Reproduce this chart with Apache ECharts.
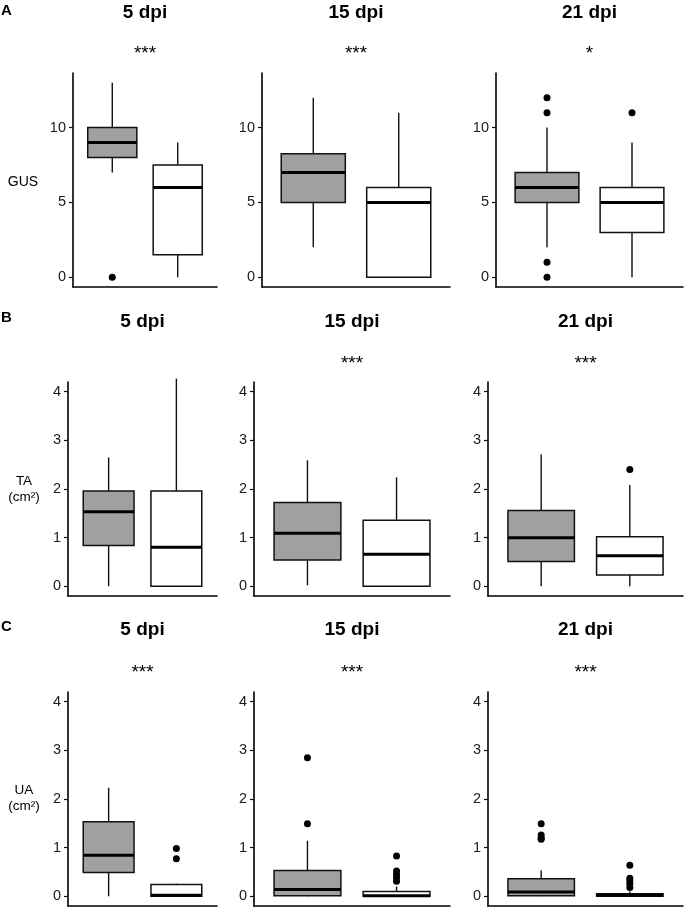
<!DOCTYPE html>
<html><head><meta charset="utf-8">
<script src="https://cdn.jsdelivr.net/npm/echarts@6/dist/echarts.min.js"></script>
<style>html,body{margin:0;padding:0;background:#fff}#c{width:685px;height:907px}</style>
</head><body><div id="c"></div>
<script>
// ---- data: box stats are [min, q1, median, q3, max] ----
const days = ['5 dpi', '15 dpi', '21 dpi'];
const rowLetters = ['A', 'B', 'C'];
const rowLabels = [['GUS'], ['TA', '(cm²)'], ['UA', '(cm²)']];
const signif = [['***', '***', '*'], ['', '***', '***'], ['***', '***', '***']];
const groupColors = ['#a0a0a0', '#ffffff'];

const gusTicks = [0, 5, 10];
const areaTicks = [0, 1, 2, 3, 4];

const gus5Gray = [7, 8, 9, 10, 13];
const gus5White = [0, 1.5, 6, 7.5, 9];
const gus15Gray = [2, 5, 7, 8.25, 12];
const gus15White = [0, 0, 5, 6, 11];
const gus21Gray = [2, 5, 6, 7, 10];
const gus21White = [0, 3, 5, 6, 9];
const gus5GrayOut = [0];
const gus5WhiteOut = [];
const gus15GrayOut = [];
const gus15WhiteOut = [];
const gus21GrayOut = [12, 11, 1, 0];
const gus21WhiteOut = [11];

const ta5Gray = [0, 0.84, 1.53, 1.96, 2.65];
const ta5White = [0, 0, 0.8, 1.96, 4.27];
const ta15Gray = [0.02, 0.54, 1.09, 1.72, 2.59];
const ta15White = [0, 0, 0.66, 1.36, 2.24];
const ta21Gray = [0, 0.51, 1.0, 1.56, 2.71];
const ta21White = [0, 0.23, 0.63, 1.02, 2.08];
const ta5GrayOut = [];
const ta5WhiteOut = [];
const ta15GrayOut = [];
const ta15WhiteOut = [];
const ta21GrayOut = [];
const ta21WhiteOut = [2.40];

const ua5Gray = [0, 0.49, 0.845, 1.53, 2.23];
const ua5White = [0, 0, 0.02, 0.24, 0.26];
const ua15Gray = [0, 0.01, 0.14, 0.53, 1.14];
const ua15White = [0, 0, 0.01, 0.1, 0.2];
const ua21Gray = [0, 0.01, 0.09, 0.36, 0.53];
const ua21White = [0, 0, 0.02, 0.05, 0.1];
const ua5GrayOut = [];
const ua5WhiteOut = [0.98, 0.77];
const ua15GrayOut = [2.85, 1.49];
const ua15WhiteOut = [0.83, 0.52, 0.45, 0.38, 0.31];
const ua21GrayOut = [1.49, 1.26, 1.2, 1.17];
const ua21WhiteOut = [0.64, 0.37, 0.32, 0.26, 0.18];

const panels = [
  [[gus5Gray, gus5White, gus5GrayOut, gus5WhiteOut], [gus15Gray, gus15White, gus15GrayOut, gus15WhiteOut], [gus21Gray, gus21White, gus21GrayOut, gus21WhiteOut]],
  [[ta5Gray, ta5White, ta5GrayOut, ta5WhiteOut], [ta15Gray, ta15White, ta15GrayOut, ta15WhiteOut], [ta21Gray, ta21White, ta21GrayOut, ta21WhiteOut]],
  [[ua5Gray, ua5White, ua5GrayOut, ua5WhiteOut], [ua15Gray, ua15White, ua15GrayOut, ua15WhiteOut], [ua21Gray, ua21White, ua21GrayOut, ua21WhiteOut]]
];
const rowTicks = [gusTicks, areaTicks, areaTicks];
const rowRange = [[-0.65, 13.65], [-0.2, 4.2], [-0.2, 4.2]];

// ---- layout ----
const FONT = '"Liberation Sans", Arial, sans-serif';
const rowTop = [73, 382, 692];
const gridH = 214;
const colLayout = [
  [[73, 144], [262, 188], [496, 187]],
  [[68, 149], [254, 196], [488, 195]],
  [[68, 149], [254, 196], [488, 195]]
];
const titleY = [13, 322, 630];
const starY = [54, 364, 673];
const letterY = [11, 318, 627];
const ylabY = [182, 490, 799];

const grids = [], xAxes = [], yAxes = [], series = [], graphics = [];
const INK = '#111';

function boxRender(params, api) {
  const x = api.value(0);
  const mn = api.coord([x, api.value(1)]);
  const q1 = api.coord([x, api.value(2)]);
  const md = api.coord([x, api.value(3)]);
  const q3 = api.coord([x, api.value(4)]);
  const mx = api.coord([x, api.value(5)]);
  const half = api.size([0.75, 0])[0] / 2;
  return {
    type: 'group',
    children: [
      { type: 'line', shape: { x1: mx[0], y1: mx[1], x2: mn[0], y2: mn[1] }, style: { stroke: INK, lineWidth: 1.4 } },
      { type: 'rect', shape: { x: q3[0] - half, y: q3[1], width: 2 * half, height: q1[1] - q3[1] },
        style: { fill: api.visual('color'), stroke: INK, lineWidth: 1.5 } },
      { type: 'line', shape: { x1: md[0] - half, y1: md[1], x2: md[0] + half, y2: md[1] }, style: { stroke: '#000', lineWidth: 3 } }
    ]
  };
}

for (let r = 0; r < 3; r++) {
  for (let c = 0; c < 3; c++) {
    const idx = r * 3 + c;
    const [left, width] = colLayout[r][c];
    grids.push({ left: left, top: rowTop[r], width: width, height: gridH });
    xAxes.push({
      gridIndex: idx, type: 'value', min: 0.4, max: 2.6,
      axisLine: { show: true, onZero: false, lineStyle: { color: '#000', width: 1.6 } },
      axisTick: { show: false }, axisLabel: { show: false }, splitLine: { show: false }
    });
    yAxes.push({
      gridIndex: idx, type: 'value', min: rowRange[r][0], max: rowRange[r][1],
      axisLine: { show: true, onZero: false, lineStyle: { color: '#000', width: 1.6 } },
      axisTick: { show: true, length: 4, customValues: rowTicks[r], lineStyle: { color: '#111', width: 1.2 } },
      axisLabel: { show: true, customValues: rowTicks[r], margin: 7, color: '#1a1a1a', fontSize: 14.5, fontFamily: FONT },
      splitLine: { show: false }
    });
    const p = panels[r][c];
    series.push({
      type: 'custom', xAxisIndex: idx, yAxisIndex: idx, renderItem: boxRender, clip: false,
      data: [0, 1].map(g => ({ value: [g + 1].concat(p[g]), itemStyle: { color: groupColors[g] } }))
    });
    const outs = [];
    [0, 1].forEach(g => p[2 + g].forEach(v => outs.push([g + 1, v])));
    series.push({
      type: 'scatter', xAxisIndex: idx, yAxisIndex: idx, data: outs,
      symbol: 'circle', symbolSize: 7, itemStyle: { color: '#000', opacity: 1 }, z: 5
    });
    const cx = left + width / 2;
    graphics.push({ type: 'text', x: cx, y: titleY[r], style: { text: days[c], font: 'bold 19px ' + FONT, fill: '#000', textAlign: 'center', textVerticalAlign: 'middle' } });
    if (signif[r][c]) {
      graphics.push({ type: 'text', x: cx, y: starY[r], style: { text: signif[r][c], font: '19px ' + FONT, fill: '#000', textAlign: 'center', textVerticalAlign: 'middle' } });
    }
  }
  graphics.push({ type: 'text', x: 1, y: letterY[r], style: { text: rowLetters[r], font: 'bold 15px ' + FONT, fill: '#000', textAlign: 'left', textVerticalAlign: 'middle' } });
  const lab = rowLabels[r];
  if (lab.length === 1) {
    graphics.push({ type: 'text', x: 23, y: ylabY[r], style: { text: lab[0], font: '14px ' + FONT, fill: '#000', textAlign: 'center', textVerticalAlign: 'middle' } });
  } else {
    graphics.push({ type: 'text', x: 24, y: ylabY[r] - 9, style: { text: lab[0], font: '13.5px ' + FONT, fill: '#000', textAlign: 'center', textVerticalAlign: 'middle' } });
    graphics.push({ type: 'text', x: 24, y: ylabY[r] + 7, style: { text: lab[1], font: '13.5px ' + FONT, fill: '#000', textAlign: 'center', textVerticalAlign: 'middle' } });
  }
}

const chart = echarts.init(document.getElementById('c'), null, { renderer: 'canvas' });
chart.setOption({
  animation: false,
  backgroundColor: '#fff',
  grid: grids, xAxis: xAxes, yAxis: yAxes, series: series, graphic: graphics
});
</script></body></html>
